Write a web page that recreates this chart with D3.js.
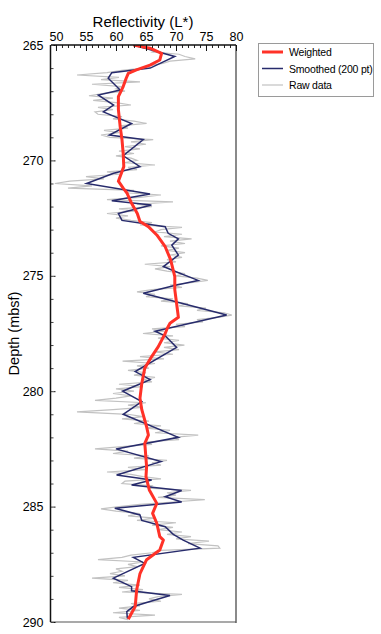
<!DOCTYPE html>
<html><head><meta charset="utf-8">
<script src="https://cdn.jsdelivr.net/npm/d3@7"></script>
<style>
html,body{margin:0;padding:0;background:#fff;}
svg{display:block;font-family:"Liberation Sans",Arial,Helvetica,sans-serif;}
</style></head>
<body><svg id="c" width="381" height="634"></svg>
<script>
// ---- data ----
const xTicks = [50, 55, 60, 65, 70, 75, 80];
const yTicks = [265, 270, 275, 280, 285, 290];
const legendLabels = ["Weighted", "Smoothed (200 pt)", "Raw data"];

// Raw data: sampled every 0.1 m from 265.0 m
const rawStartDepth = 265.0, rawStepDepth = 0.1;
const rawValues = [
 63.5,64.0,66.5,66.0,70.5,71.5,73.2,69.0,67.8,65.5,
 64.5,61.0,58.5,53.5,60.5,57.5,64.0,56.0,61.0,60.0,
 61.5,58.0,55.5,59.5,56.2,60.0,62.5,57.0,59.5,56.5,
 57.0,61.0,59.5,63.0,65.1,60.5,62.0,58.0,60.5,57.5,
 59.0,66.2,62.5,65.0,61.5,64.0,60.5,63.0,60.0,62.5,
 63.5,61.5,66.5,62.0,63.5,58.5,60.5,55.0,58.0,52.3,
 49.8,56.0,52.0,63.0,61.5,67.5,64.0,58.5,69.5,63.5,
 66.0,60.5,63.0,58.5,62.0,60.0,62.5,66.0,64.0,71.0,
 67.5,66.5,71.0,68.0,72.6,69.0,71.5,67.5,70.5,68.5,
 71.5,69.0,71.0,68.5,70.0,64.8,69.0,66.5,68.5,71.5,
 70.0,73.5,75.3,72.5,69.0,71.0,66.0,63.5,66.5,65.0,
 69.5,67.5,72.0,70.5,75.0,73.5,78.0,79.3,77.0,73.5,
 74.5,70.0,71.5,66.0,68.0,64.5,69.5,67.0,70.5,68.0,
 71.4,68.0,70.5,66.5,69.5,64.0,68.0,61.1,66.5,63.5,
 65.5,62.0,65.0,63.0,66.5,64.5,66.0,60.5,64.5,60.0,
 63.0,59.5,62.5,60.0,56.5,65.0,62.0,64.5,59.5,53.5,
 62.0,64.5,61.0,65.5,63.0,67.5,65.0,69.0,66.5,73.7,
 69.5,70.5,65.0,66.0,61.0,56.5,62.0,59.5,65.5,63.0,
 68.5,66.0,67.5,62.0,65.0,58.5,62.5,64.5,67.5,61.5,
 61.0,66.0,65.5,72.5,68.5,70.0,67.0,74.8,69.5,64.0,
 60.5,57.5,60.0,64.0,62.0,66.5,63.5,70.0,66.0,69.5,
 67.0,71.0,68.5,72.5,70.0,75.5,72.0,77.0,77.3,67.5,
 66.0,62.5,61.0,57.0,64.5,62.0,63.5,60.0,61.0,59.0,
 61.5,56.0,62.0,59.5,64.0,60.5,64.5,61.0,71.0,67.0,
 65.5,67.5,62.5,64.0,60.5,64.0,59.5,66.5,60.5,62.0
];

// Smoothed (200 pt) vertices
const smoothDepth = [265.0,265.5,266.0,266.2,266.44,266.95,267.17,267.6,267.9,268.4,268.9,269.1,269.8,270.27,270.56,271.0,271.46,271.75,271.93,272.3,272.6,272.87,273.16,273.4,273.67,274.1,274.6,274.8,275.2,275.4,275.76,276.7,277.4,277.6,278.1,279.15,279.5,280.0,280.45,281.0,282.0,282.5,283.05,283.63,283.85,284.06,284.3,284.57,284.8,285.07,285.36,285.6,285.87,286.2,286.45,286.8,287.2,287.46,288.1,288.47,288.65,288.85,289.33,289.55,289.85];
const smoothValue = [62.9,69.8,65.7,59.3,58.7,60.7,57.05,59.6,57.9,62.6,58.9,64.55,61.2,64.0,59.6,55.1,65.67,59.3,65.9,60.4,61.0,68.2,68.7,70.4,69.3,70.4,67.9,69.8,73.7,70.1,64.55,78.45,66.5,68.2,70.1,63.2,65.7,61.1,64.3,61.2,70.4,60.0,67.5,60.1,65.95,62.6,70.95,68.2,70.95,59.8,64.0,64.3,68.2,69.55,71.2,74.0,62.9,64.8,59.55,62.6,62.6,69.0,62.9,61.8,61.9];

// Weighted vertices
const weightDepth = [265.0,265.14,265.36,265.65,265.87,266.08,266.23,266.44,266.8,267.24,267.8,268.54,269.1,269.7,270.27,270.9,271.2,271.4,271.86,272.3,272.65,272.87,273.23,273.74,274.3,275.04,275.6,276.2,276.8,277.06,277.27,277.5,278.07,278.5,279.0,279.66,280.3,280.8,281.54,281.9,282.26,283.27,283.7,284.28,284.86,285.29,285.72,286.3,286.45,286.88,287.3,287.9,288.6,289.33,289.88];
const weightValue = [62.9,65.67,67.6,67.3,65.67,63.4,62.05,61.7,61.2,60.4,60.4,60.7,61.0,61.2,61.3,60.4,61.2,61.8,62.6,63.55,64.0,65.4,66.8,68.2,69.1,69.8,69.8,70.1,70.4,69.0,68.55,68.2,67.05,65.95,64.8,64.3,64.0,64.3,65.1,65.4,64.8,65.1,65.0,65.55,66.8,66.1,66.8,67.3,67.9,67.3,65.1,64.0,63.45,63.2,62.05];

// ---- chart ----
const svg = d3.select("#c");
const L = 51, R = 236, T = 45, B = 622;
const x = d3.scaleLinear().domain([49.17, 80]).range([L, R]);
const y = d3.scaleLinear().domain([265, 290]).range([T, B]);

const rawData = rawValues.map((v, i) => ({d: rawStartDepth + i * rawStepDepth, v}));
const smoothData = smoothDepth.map((d, i) => ({d, v: smoothValue[i]}));
const weightData = weightDepth.map((d, i) => ({d, v: weightValue[i]}));

svg.append("clipPath").attr("id", "clip").append("rect")
  .attr("x", L).attr("y", T).attr("width", R - L).attr("height", B - T);

const line = d3.line().x(p => x(p.v)).y(p => y(p.d));
const g = svg.append("g").attr("clip-path", "url(#clip)");
g.append("path").datum(rawData).attr("d", line)
  .attr("fill", "none").attr("stroke", "#c2c2c2").attr("stroke-width", 1.2);
g.append("path").datum(smoothData).attr("d", line)
  .attr("fill", "none").attr("stroke", "#272b6c").attr("stroke-width", 1.5).attr("stroke-linejoin", "miter");
g.append("path").datum(weightData).attr("d", line)
  .attr("fill", "none").attr("stroke", "#ff3228").attr("stroke-width", 3).attr("stroke-linejoin", "round");

// frame: right & bottom gray
svg.append("line").attr("x1", R).attr("x2", R).attr("y1", T).attr("y2", B + 1)
  .attr("stroke", "#8a8a8a").attr("stroke-width", 2);
svg.append("line").attr("x1", L).attr("x2", R).attr("y1", B).attr("y2", B)
  .attr("stroke", "#555").attr("stroke-width", 1.2);

// top axis
const minorX = d3.range(50, 81, 1);
svg.append("g").attr("transform", `translate(0,${T})`)
  .call(d3.axisTop(x).tickValues(minorX).tickSize(-3).tickFormat(""))
  .call(a => a.select(".domain").remove())
  .call(a => a.selectAll("line").attr("stroke", "#222"));
const ax = svg.append("g").attr("transform", `translate(0,${T})`)
  .call(d3.axisTop(x).tickValues(xTicks).tickSizeInner(-6).tickSizeOuter(0).tickPadding(4));
ax.select(".domain").attr("d", `M${L},0H${R}`).attr("stroke", "#111").attr("stroke-width", 1.3);
ax.selectAll("line").attr("stroke", "#111");
ax.selectAll("text").attr("font-size", 12.5).attr("fill", "#000")
  .attr("font-family", "'Liberation Sans',Arial,sans-serif");

// left axis
const minorY = d3.range(265, 291, 1);
svg.append("g").attr("transform", `translate(${L - 0.5},0)`)
  .call(d3.axisLeft(y).tickValues(minorY).tickSize(-3).tickFormat(""))
  .call(a => a.select(".domain").remove())
  .call(a => a.selectAll("line").attr("stroke", "#444"));
const ay = svg.append("g").attr("transform", `translate(${L - 0.5},0)`)
  .call(d3.axisLeft(y).tickValues(yTicks).tickSizeInner(-5).tickSizeOuter(0).tickPadding(7));
ay.select(".domain").attr("d", `M0,${T}V${B}`).attr("stroke", "#111").attr("stroke-width", 1.5);
ay.selectAll("line").attr("stroke", "#111");
ay.selectAll(".tick line").attr("x1", 3);
ay.selectAll("text").attr("font-size", 12.5).attr("fill", "#000")
  .attr("font-family", "'Liberation Sans',Arial,sans-serif");

// titles
svg.append("text").attr("x", (x(50) + x(80)) / 2 - 3).attr("y", 27)
  .attr("text-anchor", "middle").attr("font-size", 15).text("Reflectivity (L*)");
svg.append("text").attr("transform", `translate(19,${(T + B) / 2}) rotate(-90)`)
  .attr("text-anchor", "middle").attr("font-size", 14.5).text("Depth (mbsf)");

// legend
const lg = svg.append("g");
lg.append("rect").attr("x", 258.5).attr("y", 43.5).attr("width", 115).attr("height", 53)
  .attr("fill", "#fff").attr("stroke", "#9a9a9a").attr("stroke-width", 1);
const legStyles = [
  {c: "#ff3228", w: 3},
  {c: "#272b6c", w: 1.5},
  {c: "#c2c2c2", w: 1.2}
];
legendLabels.forEach((t, i) => {
  const yy = 52 + i * 16.5;
  lg.append("line").attr("x1", 262).attr("x2", 283).attr("y1", yy).attr("y2", yy)
    .attr("stroke", legStyles[i].c).attr("stroke-width", legStyles[i].w);
  lg.append("text").attr("x", 289).attr("y", yy + 4).attr("font-size", 10.5)
    .attr("letter-spacing", -0.2).text(t);
});
</script></body></html>
